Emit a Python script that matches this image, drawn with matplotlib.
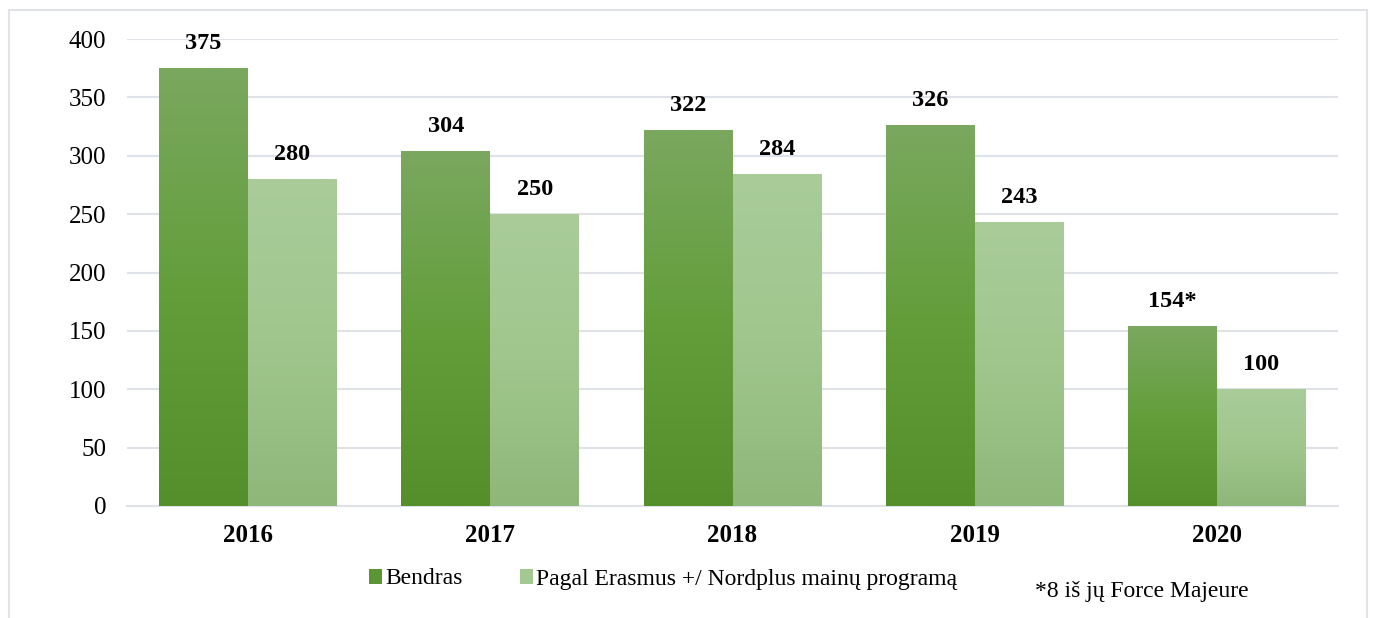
import numpy as np
import matplotlib.pyplot as plt
from matplotlib.colors import LinearSegmentedColormap
from matplotlib.patches import Rectangle, Patch

years = ["2016", "2017", "2018", "2019", "2020"]
bendras = [375, 304, 322, 326, 154]
erasmus = [280, 250, 284, 243, 100]
bendras_labels = ["375", "304", "322", "326", "154*"]
erasmus_labels = ["280", "250", "284", "243", "100"]
series_names = ["Bendras", "Pagal Erasmus +/ Nordplus mainų programą"]
note = "*8 iš jų Force Majeure"

plt.rcParams["font.family"] = ["Liberation Serif", "DejaVu Serif"]

fig = plt.figure(figsize=(13.73, 6.18), dpi=100)
ax = fig.add_axes([127 / 1373, 1 - 506 / 618, (1338 - 127) / 1373, (506 - 39) / 618])

# light frame round the chart
fig.patches.append(Rectangle((9 / 1373, -0.05), (1367 - 9) / 1373, 1.05 - 10 / 618,
                             transform=fig.transFigure, fill=False,
                             edgecolor="#dfe3e8", linewidth=1.5))

x = np.arange(len(years))
w = 0.367

dark = LinearSegmentedColormap.from_list("dark", ["#548f2c", "#639e3b", "#7aa85f"])
light = LinearSegmentedColormap.from_list("light", ["#8fb77a", "#a0c68d", "#a9cc99"])
grad = np.linspace(0, 1, 256).reshape(-1, 1)

def gradient_bars(xs, vals, cmap):
    bars = ax.bar(xs, vals, width=w, color="none", edgecolor="none", zorder=3)
    for b in bars:
        bx, by = b.get_x(), b.get_y()
        bw, bh = b.get_width(), b.get_height()
        im = ax.imshow(grad, cmap=cmap, origin="lower", aspect="auto",
                       extent=[bx, bx + bw, by, by + bh], zorder=3)
        im.set_clip_path(b)
    return bars

b1 = gradient_bars(x - w / 2, bendras, dark)
b2 = gradient_bars(x + w / 2, erasmus, light)

for xi, v, t in zip(x - w / 2, bendras, bendras_labels):
    ax.text(xi, v + 21, t, ha="center", va="center", fontsize=17.5, fontweight="bold")
for xi, v, t in zip(x + w / 2, erasmus, erasmus_labels):
    ax.text(xi, v + 21, t, ha="center", va="center", fontsize=17.5, fontweight="bold")

ax.set_xlim(-0.5, len(years) - 0.5)
ax.set_ylim(0, 400)
ax.set_yticks(range(0, 401, 50))
ax.set_xticks(x)
ax.set_xticklabels(years, fontsize=18, fontweight="bold")
ax.tick_params(axis="y", labelsize=18, length=0, pad=15)
ax.tick_params(axis="x", length=0, pad=13)
ax.grid(axis="y", color="#dfe3e8", linewidth=1.5, zorder=0)
for s in ["top", "right", "left"]:
    ax.spines[s].set_visible(False)
ax.spines["bottom"].set_color("#dfe3e8")
ax.spines["bottom"].set_linewidth(1.5)
ax.set_axisbelow(True)

handles = [Patch(facecolor="#5c9634"), Patch(facecolor="#a3c892")]
fig.legend(handles, series_names, loc="center", bbox_to_anchor=(0.483, 1 - 579 / 618),
           ncol=2, frameon=False, fontsize=17, handlelength=0.55, handleheight=0.6,
           handletextpad=0.15, columnspacing=2.4)
fig.text(1035 / 1373, 1 - 592 / 618, note, ha="left", va="center", fontsize=17)

fig.savefig("out.png", dpi=100)
